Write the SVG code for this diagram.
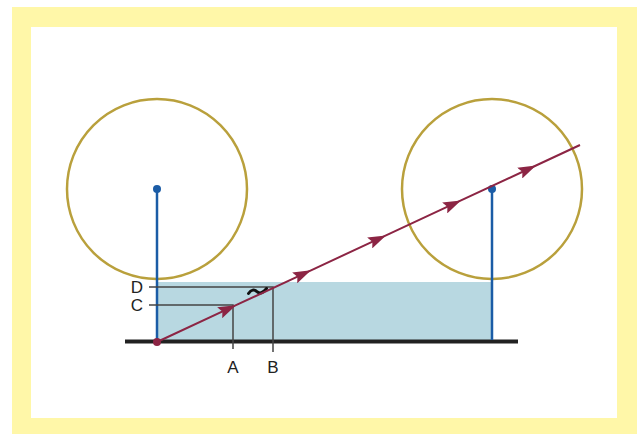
<svg xmlns="http://www.w3.org/2000/svg" width="637" height="434" viewBox="0 0 637 434">
<style>
.frame{fill:#fff7a8}
.circle{fill:none;stroke:#b9a03c;stroke-width:2.5}
.post{stroke:#1b5ca6;stroke-width:2.5}
.dot{fill:#1b5ca6}
.guide{stroke:#444;stroke-width:1.5;fill:none}
.lbl{font-family:"Liberation Sans",Arial,sans-serif;font-size:17px;fill:#222}
</style>
<defs>
<marker id="arr" viewBox="0 0 18 12" refX="18" refY="6" markerWidth="18" markerHeight="12" markerUnits="userSpaceOnUse" orient="auto">
<path d="M0,0 L18,6 L0,12 L3,6 Z" fill="#8c2544"/>
</marker>
</defs>
<rect class="frame" x="12" y="7" width="625" height="427"/>
<rect x="31" y="27" width="586" height="391" fill="#fff"/>
<g id="water"><rect x="157" y="282" width="335" height="59" fill="#b8d8e1"/></g>
<g id="left-circle"><circle class="circle" cx="157" cy="189" r="90"/></g>
<g id="right-circle"><circle class="circle" cx="492" cy="189" r="90"/></g>
<g id="ground"><line x1="125" y1="341.5" x2="518" y2="341.5" stroke="#222" stroke-width="4"/></g>
<g id="left-post"><line class="post" x1="157" y1="189" x2="157" y2="340"/><circle class="dot" cx="157" cy="189" r="4"/></g>
<g id="right-post"><line class="post" x1="492" y1="189" x2="492" y2="340"/><circle class="dot" cx="492" cy="189" r="4"/></g>
<g id="guides">
<polyline class="guide" points="149,305 233,305 233,349"/>
<polyline class="guide" points="149,287 273,287 273,352"/>
<path d="M248.5,293.5 q4,-6 9,-1.5 q4,3 9,-3.5" fill="none" stroke="#111" stroke-width="3" stroke-linecap="round"/>
</g>
<g id="connectors">
<polyline points="157,342 236,305.2 311,270.3 386,235.4 461,200.4 536,165.5 580,145" fill="none" stroke="#8c2544" stroke-width="2" marker-mid="url(#arr)"/>
<circle cx="157" cy="342" r="4" fill="#8c2544"/>
</g>
<g id="labels">
<text class="lbl" x="137" y="293" text-anchor="middle">D</text>
<text class="lbl" x="137" y="311" text-anchor="middle">C</text>
<text class="lbl" x="233" y="373" text-anchor="middle">A</text>
<text class="lbl" x="273" y="373" text-anchor="middle">B</text>
</g>
</svg>
